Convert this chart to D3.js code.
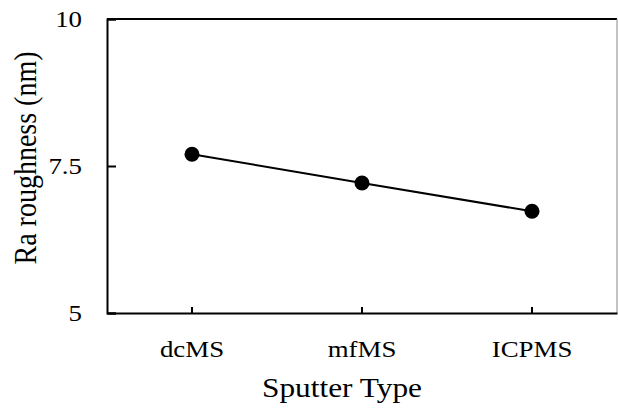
<!DOCTYPE html>
<html>
<head>
<meta charset="utf-8">
<script src="https://cdn.jsdelivr.net/npm/d3@7"></script>
<style>
  body { margin: 0; background: #fff; }
</style>
</head>
<body>
<div id="chart"></div>
<script>
// data
const categories = ["dcMS", "mfMS", "ICPMS"];
const roughness = [7.70, 7.21, 6.73];
const yTicks = [5, 7.5, 10];

const FONT = "Liberation Serif";
const SX = 1.12; // the original is a little wider than tall

const W = 618, H = 411;
const margin = {top: 19, right: 1, bottom: 98, left: 107},
    width = W - margin.left - margin.right,
    height = H - margin.top - margin.bottom;

const svg = d3.select("#chart")
  .append("svg")
  .attr("width", W)
  .attr("height", H);

const g = svg.append("g")
  .attr("transform", `translate(${margin.left},${margin.top})`);

const x = d3.scaleBand()
  .domain(categories)
  .range([0, width])
  .padding(0);

const y = d3.scaleLinear()
  .domain([5, 10])
  .range([height, 0]);

// frame: top thick, right thin gray
g.append("line")
  .attr("x1", 0).attr("x2", width)
  .attr("y1", 0).attr("y2", 0)
  .attr("stroke", "#000").attr("stroke-width", 2);
g.append("line")
  .attr("x1", width).attr("x2", width)
  .attr("y1", 0).attr("y2", height)
  .attr("stroke", "#888").attr("stroke-width", 1);

// y axis, ticks point inward
const yAxis = g.append("g")
  .call(d3.axisLeft(y).tickValues(yTicks).tickSize(-9).tickFormat(d3.format("")));
yAxis.attr("font-family", FONT).attr("font-size", 24);
yAxis.select(".domain").attr("stroke-width", 2);
yAxis.selectAll(".tick line").attr("stroke-width", 2);
yAxis.selectAll(".tick text")
  .attr("x", 0)
  .attr("transform", `translate(-25,0) scale(${SX},1)`);

// x axis
const xAxis = g.append("g")
  .attr("transform", `translate(0,${height})`)
  .call(d3.axisBottom(x).tickSize(-6).tickPadding(27).tickSizeOuter(0));
xAxis.attr("font-family", FONT).attr("font-size", 24);
xAxis.select(".domain").attr("stroke-width", 2);
xAxis.selectAll(".tick line").attr("stroke-width", 2);
xAxis.selectAll(".tick text")
  .attr("transform", `scale(${SX},1)`);

const cx = d => x(d) + x.bandwidth() / 2;

// line
const line = d3.line()
  .x((d, i) => cx(categories[i]))
  .y(d => y(d));

g.append("path")
  .datum(roughness)
  .attr("fill", "none")
  .attr("stroke", "#000")
  .attr("stroke-width", 2)
  .attr("d", line);

// points
g.selectAll("circle")
  .data(roughness)
  .enter()
  .append("circle")
  .attr("cx", (d, i) => cx(categories[i]))
  .attr("cy", d => y(d))
  .attr("r", 7.5)
  .attr("fill", "#000");

// axis titles
svg.append("text")
  .attr("text-anchor", "middle")
  .attr("transform", `translate(342,397) scale(${SX},1)`)
  .attr("font-family", FONT)
  .attr("font-size", 28)
  .text("Sputter Type");

svg.append("text")
  .attr("text-anchor", "middle")
  .attr("transform", `translate(36,158) rotate(-90) scale(1,${SX})`)
  .attr("font-family", FONT)
  .attr("font-size", 28)
  .text("Ra roughness (nm)");
</script>
</body>
</html>
